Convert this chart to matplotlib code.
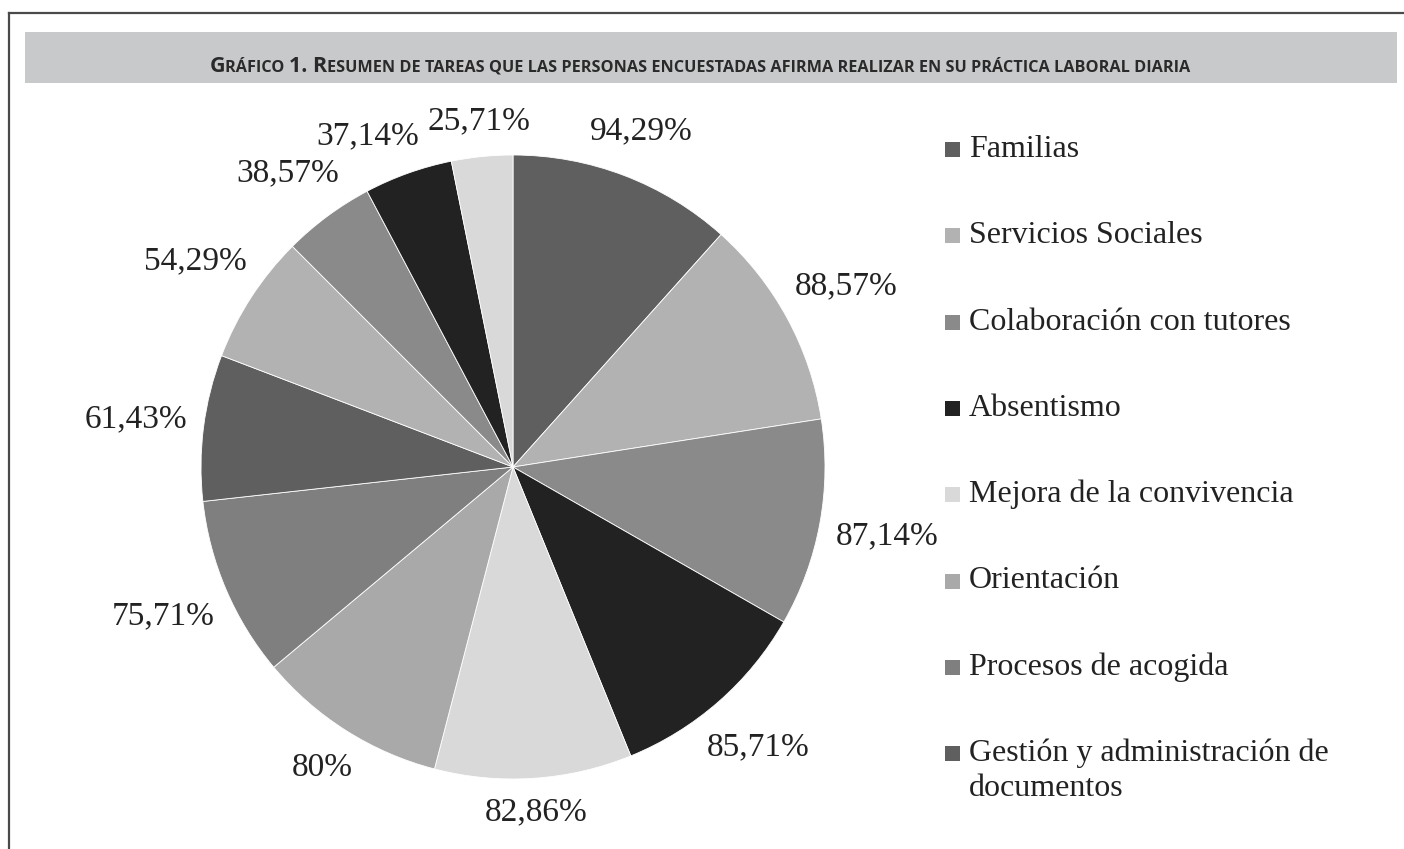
import matplotlib
matplotlib.use('Agg')
import matplotlib.pyplot as plt
from matplotlib import font_manager as fm
from matplotlib.patches import Rectangle
from matplotlib.lines import Line2D
import numpy as np

# ---------------- data ----------------
values = [94.29, 88.57, 87.14, 85.71, 82.86, 80.00, 75.71, 61.43, 54.29, 38.57, 37.14, 25.71]
legend_labels = ["Familias", "Servicios Sociales", "Colaboración con tutores", "Absentismo",
                 "Mejora de la convivencia", "Orientación", "Procesos de acogida",
                 "Gestión y administración de\ndocumentos"]
colors = ["#5f5f5f", "#b2b2b2", "#8a8a8a", "#222222", "#d9d9d9", "#a9a9a9",
          "#7f7f7f", "#5f5f5f", "#b2b2b2", "#8a8a8a", "#222222", "#d9d9d9"]
title_parts = [("G", "big"), ("RÁFICO ", "small"), ("1. R", "big"),
               ("ESUMEN DE TAREAS QUE LAS PERSONAS ENCUESTADAS AFIRMA REALIZAR EN SU PRÁCTICA LABORAL DIARIA", "small")]


def fmt(v):
    s = f"{v:.2f}".rstrip('0').rstrip('.')
    return s.replace('.', ',') + '%'


pct_labels = [fmt(v) for v in values]


def pick(names):
    for n in names:
        try:
            fm.findfont(fm.FontProperties(family=n), fallback_to_default=False)
            return n
        except Exception:
            pass
    return 'DejaVu Sans'


serif = pick(['Liberation Serif', 'DejaVu Serif'])
title_font = pick(['Liberation Sans Narrow', 'Open Sans', 'Liberation Sans'])

W, H = 1404, 849
fig = plt.figure(figsize=(W / 100, H / 100), dpi=100)
fig.patch.set_facecolor('white')
renderer = fig.canvas.get_renderer()


def fx(px):
    return px / W


def fy(py):
    return 1 - py / H


# frame lines
fig.add_artist(Line2D([fx(8.5), 1.0], [fy(12.5), fy(12.5)], color='#4a4a4a', lw=1.6))
fig.add_artist(Line2D([fx(8.5), fx(8.5)], [fy(12.5), 0.0], color='#4a4a4a', lw=1.6))
# title band
fig.add_artist(Rectangle((fx(25), fy(83)), fx(1397) - fx(25), (83 - 32) / H,
                         facecolor='#c8c9cb', edgecolor='none', lw=0))

# title in small caps
sizes = {"big": 15.5, "small": 11.7}
texts = []
widths = []
for s, k in title_parts:
    t = fig.text(0, fy(71.5), s, fontsize=sizes[k], family=title_font, weight='bold',
                 color='#2a2a2a', va='baseline', ha='left')
    tmp = fig.text(0, 0, s + ".", fontsize=sizes[k], family=title_font, weight='bold')
    d2 = fig.text(0, 0, ".", fontsize=sizes[k], family=title_font, weight='bold')
    wpx = tmp.get_window_extent(renderer).width - d2.get_window_extent(renderer).width
    tmp.remove(); d2.remove()
    texts.append(t)
    widths.append(wpx)
total = sum(widths)
x0 = 700 - total / 2
for t, wpx in zip(texts, widths):
    t.set_x(fx(x0))
    x0 += wpx

# pie
R = 312
cx, cy = 513, 467
ax = fig.add_axes([fx(cx - R), fy(cy + R), 2 * R / W, 2 * R / H])
wedges, _ = ax.pie(values, colors=colors, startangle=90, counterclock=False,
                   wedgeprops=dict(edgecolor='white', linewidth=0.6))
ax.set_xlim(-1, 1)
ax.set_ylim(-1, 1)
ax.set_aspect('equal')
ax.axis('off')

gap = 15
lab_texts = []
angles = []


def place(t, th):
    t.set_position((0, 0))
    bb = t.get_window_extent(renderer)
    rp = R + gap + 0.5 * bb.width * abs(np.cos(th)) + 0.5 * bb.height * abs(np.sin(th))
    r = rp / R
    t.set_position((r * np.cos(th), r * np.sin(th)))


for w, lab in zip(wedges, pct_labels):
    th = np.deg2rad((w.theta1 + w.theta2) / 2)
    t = ax.text(0, 0, lab, ha='center', va='center', fontsize=24, family=serif, color='#222222')
    place(t, th)
    lab_texts.append(t)
    angles.append(th)


def overlap(a, b, pad=6):
    A = a.get_window_extent(renderer)
    B = b.get_window_extent(renderer)
    return not (A.x1 + pad < B.x0 or B.x1 + pad < A.x0 or A.y1 + pad < B.y0 or B.y1 + pad < A.y0)


# push crowded labels apart along the circle (counter-clockwise direction in screen)
for i in range(len(lab_texts) - 2, -1, -1):
    k = 0
    while overlap(lab_texts[i], lab_texts[i + 1]) and k < 60:
        angles[i] += np.deg2rad(0.5)
        place(lab_texts[i], angles[i])
        k += 1

# legend (first 8 entries as in the original)
step = 86.3
line_gap = 35
for i, name in enumerate(legend_labels):
    base = 157 + i * step
    fig.add_artist(Rectangle((fx(945), fy(base)), 15 / W, 15 / H,
                             facecolor=wedges[i].get_facecolor(), edgecolor='none'))
    for j, line in enumerate(name.split("\n")):
        fig.text(fx(969), fy(base + j * line_gap), line, fontsize=23, family=serif,
                 color='#222222', ha='left', va='baseline')

fig.savefig('out.png', dpi=100, facecolor='white')
